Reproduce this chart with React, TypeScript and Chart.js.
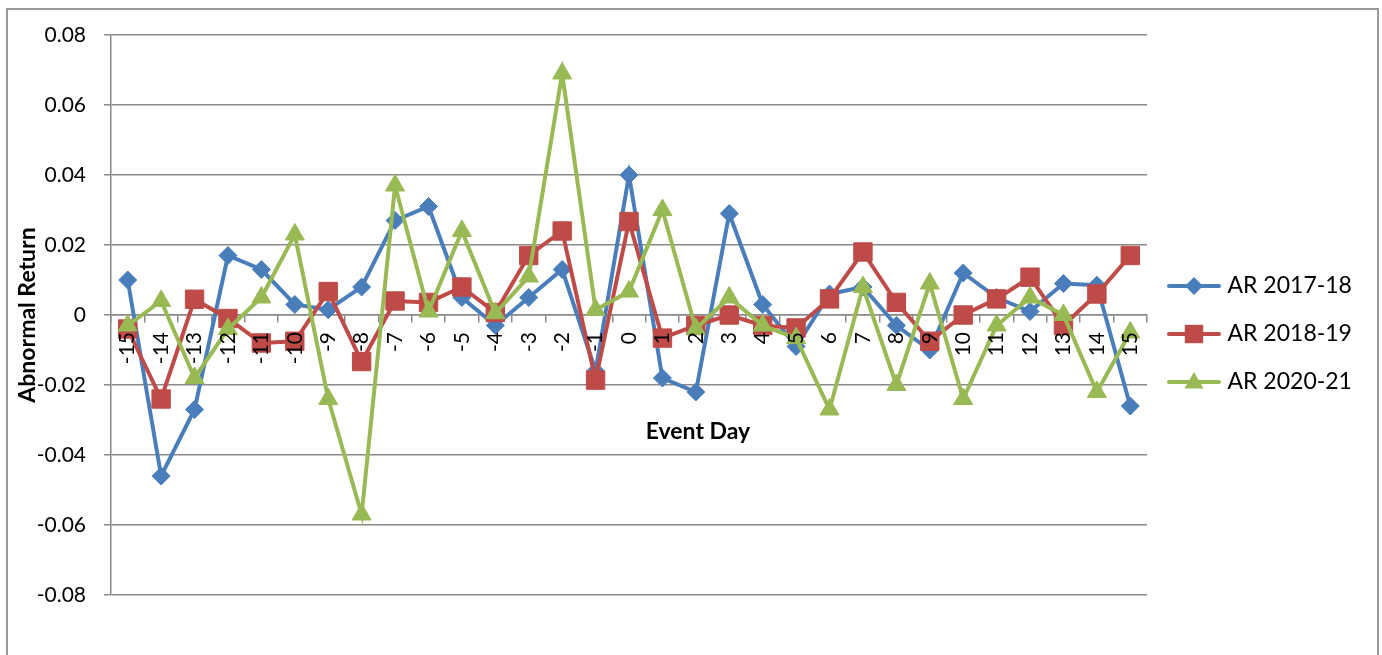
import React, { useEffect, useRef } from 'react';
import { Chart, registerables } from 'chart.js';

Chart.register(...registerables);

// ---- data ----
const eventDays = ['-15', '-14', '-13', '-12', '-11', '-10', '-9', '-8', '-7', '-6', '-5', '-4', '-3', '-2', '-1', '0', '1', '2', '3', '4', '5', '6', '7', '8', '9', '10', '11', '12', '13', '14', '15'];

const ar2017_18 = [0.010, -0.046, -0.027, 0.017, 0.013, 0.003, 0.0015, 0.008, 0.027, 0.031, 0.005, -0.003, 0.005, 0.013, -0.016, 0.040, -0.018, -0.022, 0.029, 0.003, -0.009, 0.006, 0.008, -0.003, -0.010, 0.012, 0.005, 0.001, 0.009, 0.0085, -0.026];

const ar2018_19 = [-0.004, -0.024, 0.0045, -0.001, -0.008, -0.0075, 0.0067, -0.0133, 0.004, 0.0036, 0.008, 0.0007, 0.017, 0.024, -0.0186, 0.0267, -0.0066, -0.003, 0.0, -0.003, -0.0037, 0.0046, 0.018, 0.0036, -0.0075, 0.0, 0.0046, 0.0108, -0.003, 0.006, 0.017];

const ar2020_21 = [-0.003, 0.004, -0.018, -0.004, 0.005, 0.023, -0.024, -0.057, 0.037, 0.001, 0.024, 0.0005, 0.011, 0.069, 0.0015, 0.0067, 0.030, -0.004, 0.005, -0.003, -0.0066, -0.027, 0.008, -0.020, 0.009, -0.024, -0.003, 0.005, 0.000, -0.022, -0.005];

const seriesNames = ['AR 2017-18', 'AR 2018-19', 'AR 2020-21'];
const yMin = -0.08;
const yMax = 0.08;
const yStep = 0.02;
const xTitle = 'Event Day';
const yTitle = 'Abnormal Return';

// ---- styles ----
const FONT = 'Lato, "Open Sans", "DejaVu Sans", sans-serif';
const BLUE = '#4A7EBB';
const RED = '#BE4B48';
const GREEN = '#98B954';
const GRID = '#8a8a8a';
const TICK_SIZE = 21;
const LEGEND_SIZE = 23;
const TITLE_SIZE = 23;

function drawMarker(ctx: CanvasRenderingContext2D, style: string, x: number, y: number, r: number) {
  ctx.beginPath();
  if (style === 'rectRot') {
    ctx.moveTo(x - r, y);
    ctx.lineTo(x, y - r);
    ctx.lineTo(x + r, y);
    ctx.lineTo(x, y + r);
  } else if (style === 'rect') {
    const s = r * Math.SQRT1_2;
    ctx.rect(x - s, y - s, 2 * s, 2 * s);
  } else {
    ctx.moveTo(x, y - r);
    ctx.lineTo(x + r * Math.sin((2 * Math.PI) / 3), y - r * Math.cos((2 * Math.PI) / 3));
    ctx.lineTo(x + r * Math.sin((4 * Math.PI) / 3), y - r * Math.cos((4 * Math.PI) / 3));
  }
  ctx.closePath();
  ctx.fill();
}

function makeLegendIcon(color: string, style: string, r: number) {
  const c = document.createElement('canvas');
  c.width = 56;
  c.height = 28;
  const ctx = c.getContext('2d')!;
  ctx.strokeStyle = color;
  ctx.fillStyle = color;
  ctx.lineWidth = 4;
  ctx.lineCap = 'round';
  ctx.beginPath();
  ctx.moveTo(3, 14);
  ctx.lineTo(53, 14);
  ctx.stroke();
  drawMarker(ctx, style, 28, style === 'triangle' ? 15 : 14, r);
  return c;
}

const eventDayTitle = {
  id: 'eventDayTitle',
  afterDraw(chart: any) {
    const { ctx, chartArea, scales } = chart;
    const zeroY = scales.y.getPixelForValue(0);
    ctx.save();
    ctx.font = `bold ${TITLE_SIZE}px ${FONT}`;
    ctx.fillStyle = '#000';
    ctx.textAlign = 'center';
    ctx.textBaseline = 'middle';
    ctx.fillText(xTitle, chartArea.left + 587, zeroY + 117);
    ctx.restore();
  },
};

const legendShift = {
  id: 'legendShift',
  afterLayout(chart: any) {
    const lg = chart.legend;
    if (lg) {
      lg.top += 19;
      lg.bottom += 19;
    }
  },
};

export default function App() {
  const canvasRef = useRef<HTMLCanvasElement | null>(null);

  useEffect(() => {
    if (!canvasRef.current) return;

    const icons = [
      makeLegendIcon(BLUE, 'rectRot', 9),
      makeLegendIcon(RED, 'rect', 13),
      makeLegendIcon(GREEN, 'triangle', 11),
    ];

    // measure legend width so the plot area ends where the reference's does
    const mc = document.createElement('canvas').getContext('2d')!;
    mc.font = `normal ${LEGEND_SIZE}px ${FONT}`;
    const maxText = Math.max(...seriesNames.map((s) => mc.measureText(s).width));
    const legendPad = 25;
    const pointW = 44;
    const legendWidth = legendPad + pointW + LEGEND_SIZE / 2 + maxText + 10;
    const rightPad = Math.max(0, 230 - legendWidth);

    const chart = new Chart(canvasRef.current, {
      type: 'line',
      data: {
        labels: eventDays,
        datasets: [
          {
            label: seriesNames[0],
            data: ar2017_18,
            borderColor: BLUE,
            backgroundColor: BLUE,
            pointStyle: 'rectRot',
            pointRadius: 9,
            pointHoverRadius: 9,
            pointBorderWidth: 1,
            order: 3,
          },
          {
            label: seriesNames[1],
            data: ar2018_19,
            borderColor: RED,
            backgroundColor: RED,
            pointStyle: 'rect',
            pointRadius: 13,
            pointHoverRadius: 13,
            pointBorderWidth: 1,
            order: 2,
          },
          {
            label: seriesNames[2],
            data: ar2020_21,
            borderColor: GREEN,
            backgroundColor: GREEN,
            pointStyle: 'triangle',
            pointRadius: 11,
            pointHoverRadius: 11,
            pointBorderWidth: 1,
            order: 1,
          },
        ],
      },
      options: {
        animation: false,
        responsive: true,
        maintainAspectRatio: false,
        layout: { padding: { top: 25, bottom: 60, left: 0, right: rightPad } },
        elements: {
          line: { borderWidth: 4, tension: 0, fill: false },
        },
        font: { family: FONT },
        scales: {
          x: {
            type: 'category',
            position: { y: 0 } as any,
            offset: true,
            grid: {
              display: true,
              offset: true,
              drawOnChartArea: false,
              drawTicks: true,
              tickLength: 7,
              color: GRID,
              lineWidth: 1.5,
            },
            border: { display: true, color: GRID, width: 1.5 },
            ticks: {
              z: 1,
              autoSkip: false,
              minRotation: 90,
              maxRotation: 90,
              padding: 10,
              color: '#000',
              font: { family: FONT, size: TICK_SIZE },
            },
          },
          y: {
            type: 'linear',
            min: yMin,
            max: yMax,
            afterFit: (s: any) => {
              s.width = 103;
              s.paddingTop = 10;
              s.paddingBottom = 10;
            },
            grid: {
              color: GRID,
              lineWidth: 1.5,
              drawTicks: true,
              tickLength: 7,
            },
            border: { display: true, color: GRID, width: 1.5 },
            ticks: {
              stepSize: yStep,
              padding: 18,
              color: '#000',
              font: { family: FONT, size: TICK_SIZE },
              callback: (v: any) => (Math.abs(Number(v)) < 1e-9 ? '0' : Number(v).toFixed(2)),
            },
            title: {
              display: true,
              text: yTitle,
              color: '#000',
              font: { family: FONT, size: TITLE_SIZE, weight: 'bold' },
              padding: { top: 6, bottom: 0 },
            },
          },
        },
        plugins: {
          tooltip: { enabled: false },
          legend: {
            display: true,
            position: 'right',
            labels: {
              usePointStyle: true,
              pointStyleWidth: pointW,
              padding: legendPad,
              color: '#000',
              font: { family: FONT, size: LEGEND_SIZE },
              generateLabels: (c: any) =>
                c.data.datasets.map((ds: any, i: number) => ({
                  text: ds.label,
                  pointStyle: icons[i],
                  fillStyle: ds.borderColor,
                  strokeStyle: ds.borderColor,
                  lineWidth: 0,
                  hidden: false,
                  datasetIndex: i,
                  fontColor: '#000',
                })),
            },
          },
        },
      },
      plugins: [eventDayTitle, legendShift],
    } as any);

    return () => chart.destroy();
  }, []);

  return (
    <div
      style={{
        position: 'fixed',
        left: 6,
        top: 8,
        width: 1373,
        height: 647,
        boxSizing: 'border-box',
        border: '2px solid #9a9a9a',
        borderBottom: 'none',
        background: '#fff',
      }}
    >
      <div style={{ position: 'relative', width: 1369, height: 645 }}>
        <canvas ref={canvasRef} />
      </div>
    </div>
  );
}
